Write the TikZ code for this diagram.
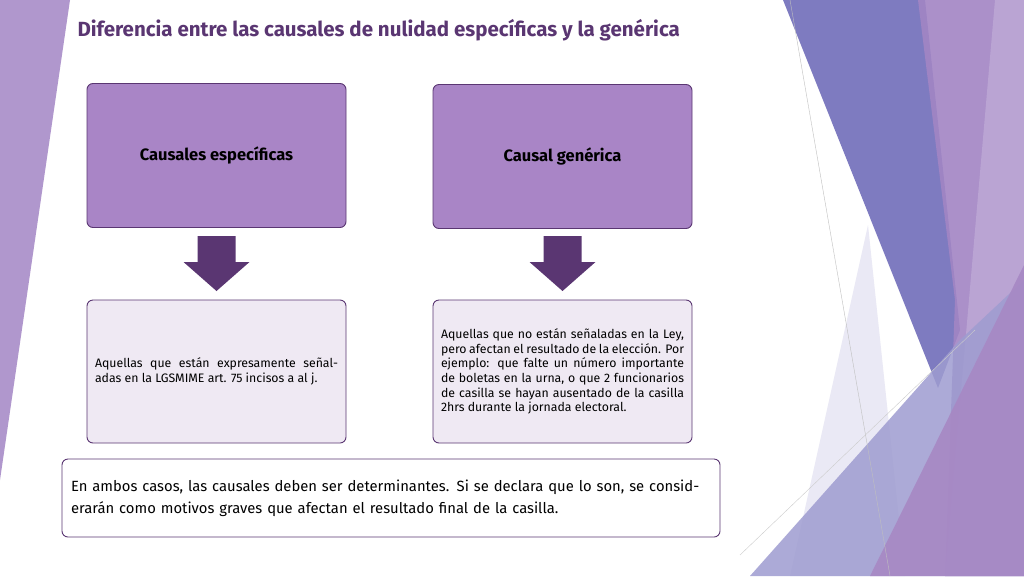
\documentclass[tikz,border=0pt]{standalone}
\usepackage{fontspec}
\setmainfont{Fira Sans}
\definecolor{dpurp}{HTML}{5A3672}
\definecolor{boxfill}{HTML}{A985C6}
\definecolor{lightbox}{HTML}{EFE9F3}
\definecolor{bandblue}{HTML}{7E7BC0}
\definecolor{bandpurp}{HTML}{A285C4}
\begin{document}
\begin{tikzpicture}[x=1pt,y=-1pt,
  topbox/.style={draw=dpurp,line width=0.9pt,fill=boxfill,rounded corners=6pt,minimum width=259pt,minimum height=144pt,font=\bfseries\fontsize{16.5}{18}\selectfont,text=black},
  lowbox/.style={draw=dpurp,line width=0.9pt,fill=lightbox,rounded corners=6pt,minimum width=259pt,minimum height=143pt,font=\fontsize{12.3}{14.6}\selectfont,text width=243pt,align=justify}]
\useasboundingbox (0,0) rectangle (1024,576);
\fill[white] (0,0) rectangle (1024,576);
% left decoration
\fill[bandpurp!85] (0,0) -- (70,0) -- (0,480) -- cycle;
% right decoration
\fill[bandblue!20,opacity=0.8] (790,576) -- (868,225) -- (905,576) -- cycle;
\fill[bandblue] (783,0) -- (925,0) -- (960,330) -- (938,388) -- cycle;
\fill[bandpurp,opacity=0.9] (918,0) -- (1024,0) -- (1024,576) -- (945,576) -- (955,300) -- cycle;
\fill[bandpurp!70,opacity=0.8] (995,0) -- (1024,0) -- (1024,576) -- (945,576) -- cycle;
\fill[bandblue!75,opacity=0.85] (750,576) -- (960,340) -- (1024,280) -- (1024,576) -- cycle;
\fill[bandpurp!95!pink,opacity=0.9] (870,576) -- (1024,265) -- (1024,576) -- cycle;
\draw[gray!50,line width=0.4pt] (790,0) -- (890,576);
\draw[gray!40,line width=0.4pt] (740,555) -- (975,330);
% title
\node[anchor=west,text=dpurp,font=\bfseries\fontsize{20.5}{22}\selectfont] (title) at (74,30) {Diferencia entre las causales de nulidad específicas y la genérica};
% boxes
\node[topbox] (esp) at (216.5,155.5) {Causales específicas};
\node[topbox] (gen) at (562.5,156.5) {Causal genérica};
\node[lowbox] (espt) at (216.5,371.5) {Aquellas que están expresamente señaladas en la LGSMIME art. 75 incisos a al j.};
\node[lowbox] (gent) at (562.5,371.5) {Aquellas que no están señaladas en la Ley, pero afectan el resultado de la elección. Por ejemplo: que falte un número importante de boletas en la urna, o que 2 funcionarios de casilla se hayan ausentado de la casilla 2hrs durante la jornada electoral.};
\foreach \cx/\nm in {216.5/a1,562.5/a2}{
  \fill[dpurp] (\cx-19,236) -- (\cx+19,236) -- (\cx+19,262) -- (\cx+33,262) -- (\cx,291) -- (\cx-33,262) -- (\cx-19,262) -- cycle;
  \coordinate (\nm) at (\cx,263);
}
\node[draw=dpurp,line width=0.9pt,fill=white,rounded corners=6pt,minimum width=658pt,minimum height=78pt,text width=640pt,align=left,font=\fontsize{14.8}{22}\selectfont] (conc) at (391,498) {En ambos casos, las causales deben ser determinantes. Si se declara que lo son, se considerarán como motivos graves que afectan el resultado final de la casilla.};
\end{tikzpicture}
\end{document}
